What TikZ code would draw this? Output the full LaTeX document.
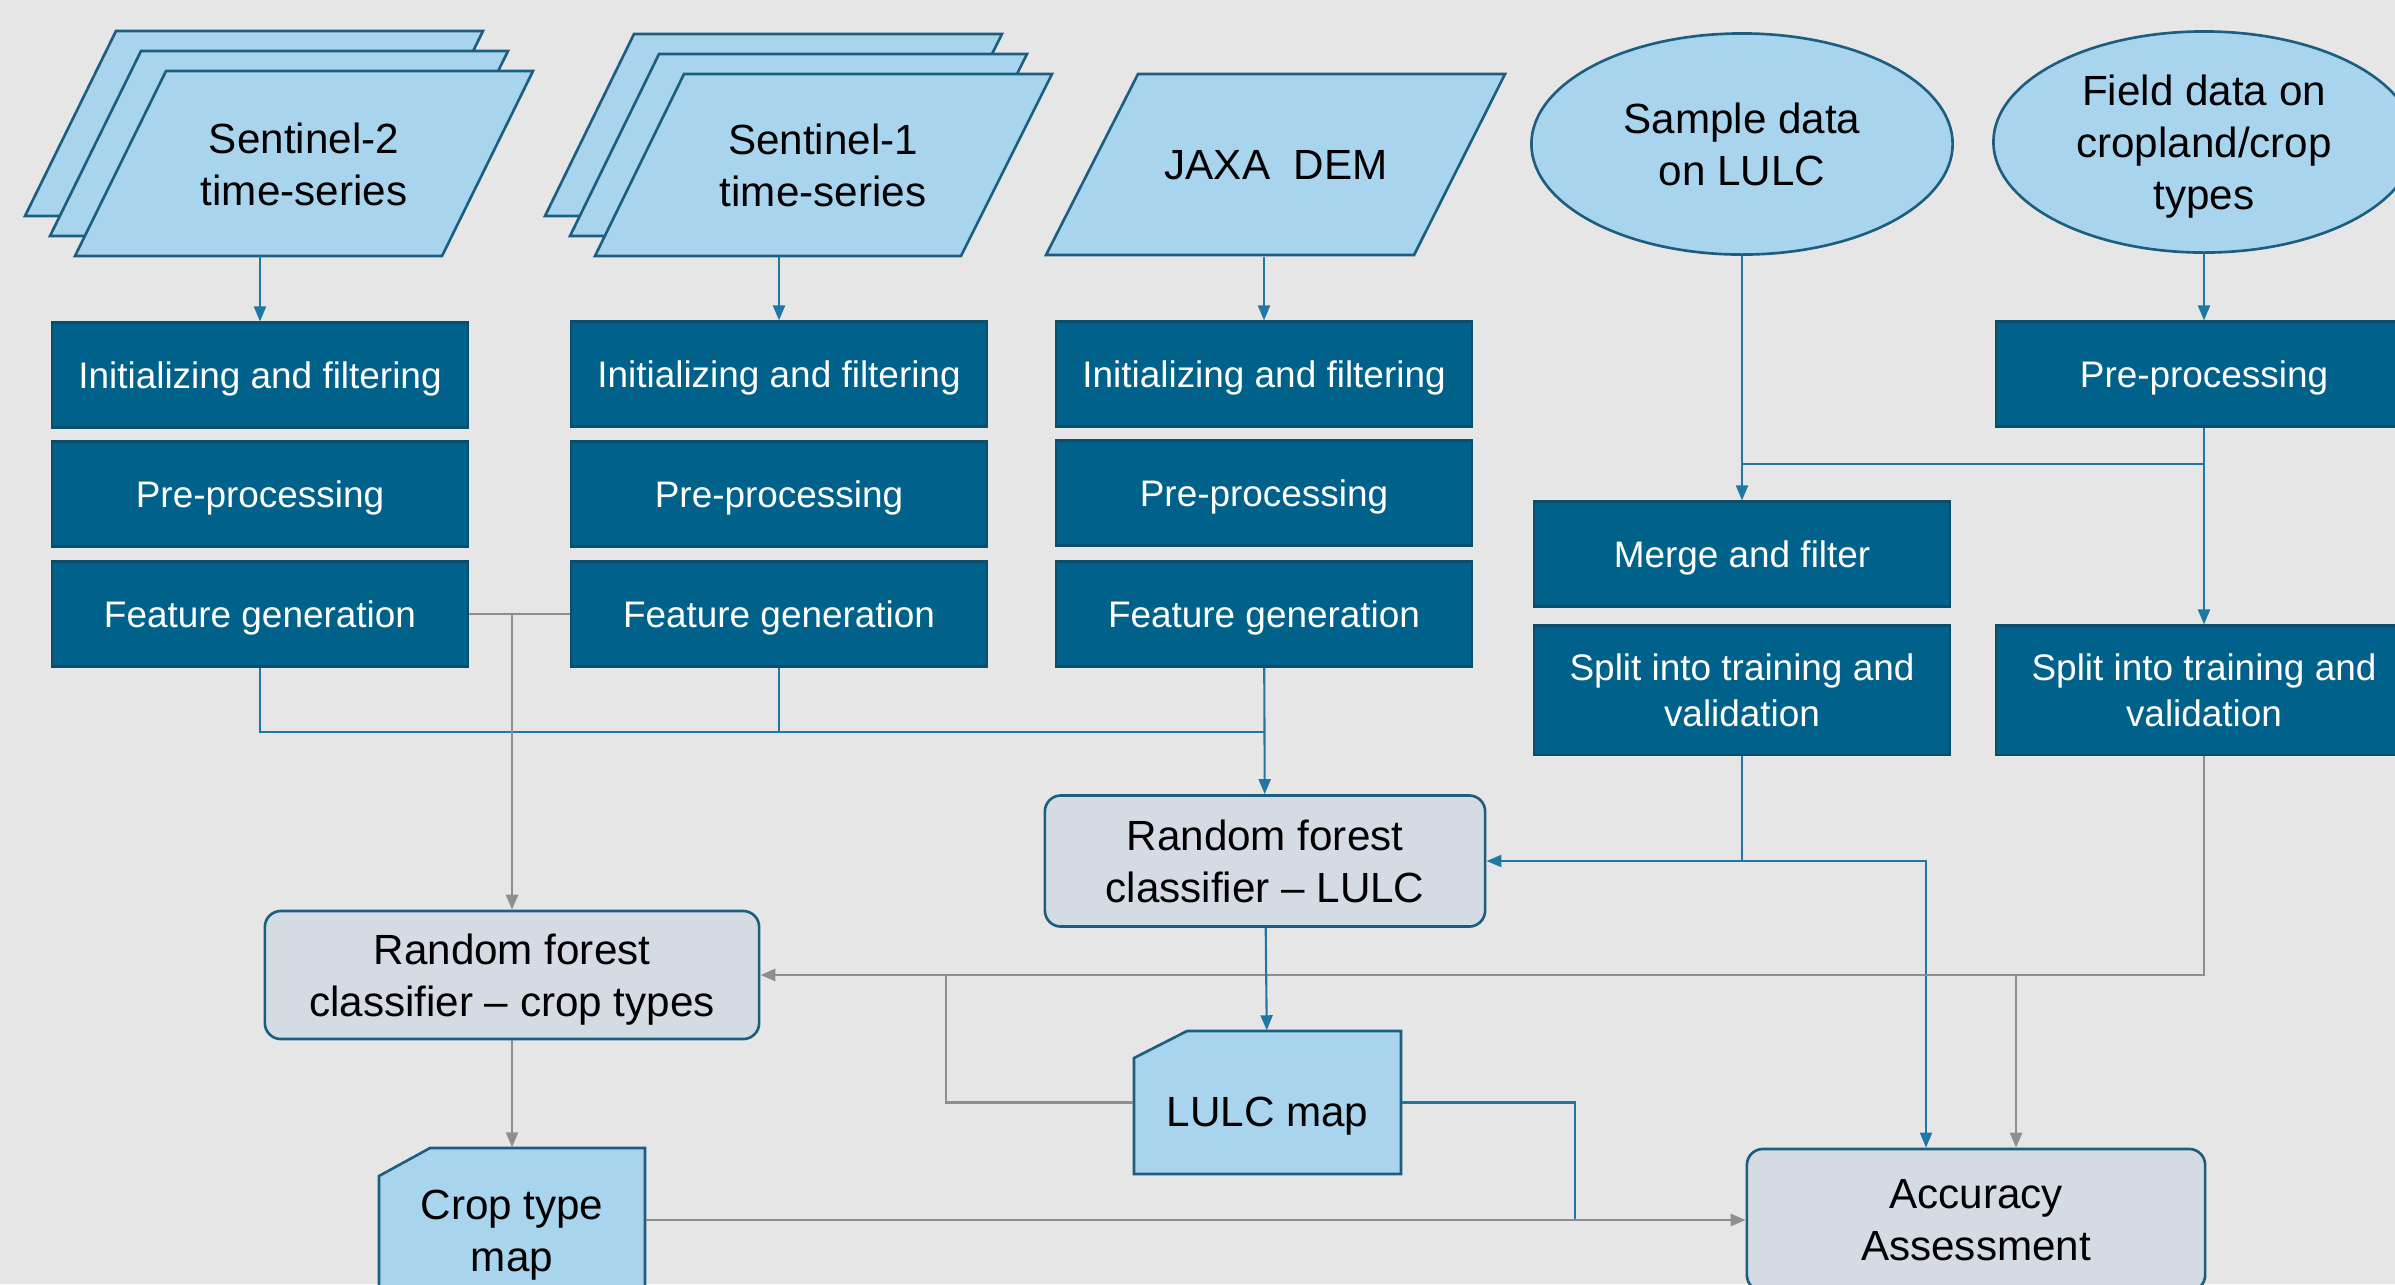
\documentclass[tikz,border=0pt]{standalone}
\usepackage{fontspec}
\setmainfont{Liberation Sans}
\usetikzlibrary{shapes.geometric,arrows.meta}
\definecolor{bg}{HTML}{E6E6E6}
\definecolor{procblue}{HTML}{00628A}
\definecolor{boxedge}{HTML}{0B4E6C}
\definecolor{lightbox}{HTML}{A9D4EE}
\definecolor{edgeblue}{HTML}{1C5E80}
\definecolor{clfgray}{HTML}{D5DBE3}
\definecolor{lineblue}{HTML}{1F78A4}
\definecolor{linegray}{HTML}{8E8E8E}

\begin{document}
\begin{tikzpicture}[x=0.01cm, y=-0.01cm, >={Triangle[length=0.15cm, width=0.12cm]},
	inshape/.style={fill=lightbox, draw=edgeblue, line width=0.75pt},
	intext/.style={rectangle, minimum width=3.67cm, minimum height=1.83cm, inner sep=0pt, align=center, text depth=0pt, font=\fontsize{12}{14.8}\selectfont},
	srcell/.style={ellipse, minimum width=4.21cm, minimum height=2.21cm, inner sep=0pt, fill=lightbox, draw=edgeblue, line width=0.75pt, align=center, text depth=0pt, font=\fontsize{12}{14.8}\selectfont},
	procbox/.style={rectangle, minimum width=4.15cm, minimum height=1.05cm, inner sep=0pt, fill=procblue, draw=boxedge, line width=0.6pt, text=white, align=center, text depth=0pt, font=\fontsize{10.5}{13}\selectfont},
	clfbox/.style={rectangle, rounded corners=0.16cm, inner sep=0pt, fill=clfgray, draw=edgeblue, line width=0.75pt, align=center, text depth=0pt, font=\fontsize{12}{14.8}\selectfont},
	mapline/.style={fill=lightbox, draw=edgeblue, line width=0.75pt},
	maptext/.style={rectangle, inner sep=0pt, align=center, text depth=0pt, font=\fontsize{12}{14.8}\selectfont},
	blueline/.style={draw=lineblue, line width=0.6pt},
	grayline/.style={draw=linegray, line width=0.75pt}]
	\useasboundingbox (0,0) rectangle (2395,1284);
	\fill[bg] (0,0) rectangle (2395,1284);
	\clip (0,0) rectangle (2395,1284);
	\foreach \dx/\dy in {-50/-40,-25/-20,0/0} {
		\filldraw[inshape, shift={(\dx,\dy)}] (75,256) -- (166,71) -- (533,71) -- (442,256) -- cycle;
		\filldraw[inshape, shift={(\dx,\dy)}] (595,256) -- (684,74) -- (1052,74) -- (961,256) -- cycle;
	}
	\filldraw[inshape] (1046,255) -- (1138,74) -- (1505,74) -- (1414,255) -- cycle;
	\node[intext] (S2) at (304,164) {Sentinel-2\\time-series};
	\node[intext] (S1) at (823,165) {Sentinel-1\\time-series};
	\node[intext] (DEM) at (1276,165) {JAXA\ \ DEM};
	\node[srcell] (SD) at (1742,144) {Sample data\\on LULC};
	\node[srcell] (FD) at (2204,142) {Field data on\\cropland/crop\\types};
	\node[procbox] (I2) at (260,375) {Initializing and filtering};
	\node[procbox] (P2) at (260,494) {Pre-processing};
	\node[procbox] (F2) at (260,614) {Feature generation};
	\node[procbox] (I1) at (779,374) {Initializing and filtering};
	\node[procbox] (P1) at (779,494) {Pre-processing};
	\node[procbox] (F1) at (779,614) {Feature generation};
	\node[procbox] (IJ) at (1264,374) {Initializing and filtering};
	\node[procbox] (PJ) at (1264,493) {Pre-processing};
	\node[procbox] (FJ) at (1264,614) {Feature generation};
	\node[procbox] (PF) at (2204,374) {Pre-processing};
	\node[procbox] (MF) at (1742,554) {Merge and filter};
	\node[procbox, minimum height=1.29cm] (SL) at (1742,690) {Split into training and\\validation};
	\node[procbox, minimum height=1.29cm] (SR) at (2204,690) {Split into training and\\validation};
	\node[clfbox, minimum width=4.4cm, minimum height=1.31cm] (RL) at (1265,861) {Random forest\\classifier -- LULC};
	\node[clfbox, minimum width=4.94cm, minimum height=1.28cm] (RC) at (512,975) {Random forest\\classifier -- crop types};
	\filldraw[mapline] (1134,1174) -- (1134,1058) -- (1187,1031) -- (1401,1031) -- (1401,1174) -- cycle;
	\node[maptext, minimum width=2.67cm, minimum height=1.43cm, text height=0.47cm] (LM) at (1267.5,1102.5) {LULC map};
	\filldraw[mapline] (379,1300) -- (379,1176) -- (430,1148) -- (645,1148) -- (645,1300) -- cycle;
	\node[maptext, minimum width=2.66cm, minimum height=1.66cm] (CM) at (512,1231) {Crop type\\map};
	\node[clfbox, minimum width=4.58cm, minimum height=1.42cm] (AA) at (1976,1220) {Accuracy\\Assessment};
	\coordinate (J1) at (1264,732);
	\coordinate (J2) at (1742,464);
	\coordinate (J3) at (1742,861);
	\coordinate (J4) at (1926,861);
	\coordinate (J5) at (2016,975);
	\coordinate (J6) at (946,975);
	\coordinate (J7) at (1575,1219);
	\draw[blueline,->] (I2 |- S2.south) -- (I2);
	\draw[blueline,->] (I1 |- S1.south) -- (I1);
	\draw[blueline,->] (IJ |- DEM.south) -- (IJ);
	\draw[blueline] (F2.south) |- (J1);
	\draw[blueline] (F1.south) -- (F1.south |- J1);
	\draw[blueline,->] (FJ) -- (RL);
	\draw[grayline] (F2.east) -- (F1.west);
	\draw[grayline,->] (F2.east -| RC.north) -- (RC.north);
	\draw[blueline,->] (SD) -- (MF);
	\draw[blueline,->] (FD) -- (PF);
	\draw[blueline,->] (PF) -- (SR);
	\draw[blueline] (PF.south |- J2) -- (J2);
	\draw[blueline,->] (SL.south) |- (RL.east);
	\draw[blueline,->] (J3) -- (J4) -- (J4 |- AA.north);
	\draw[grayline,->] (SR.south) |- (RC.east);
	\draw[grayline,->] (J5) -- (J5 |- AA.north);
	\draw[grayline] (J6) |- (LM.west);
	\draw[blueline,->] (RL) -- (LM);
	\draw[blueline] (LM.east) -| (J7);
	\draw[grayline,->] (RC) -- (CM);
	\draw[grayline,->] (AA.west -| CM.east) -- (AA.west);
\end{tikzpicture}
\end{document}
